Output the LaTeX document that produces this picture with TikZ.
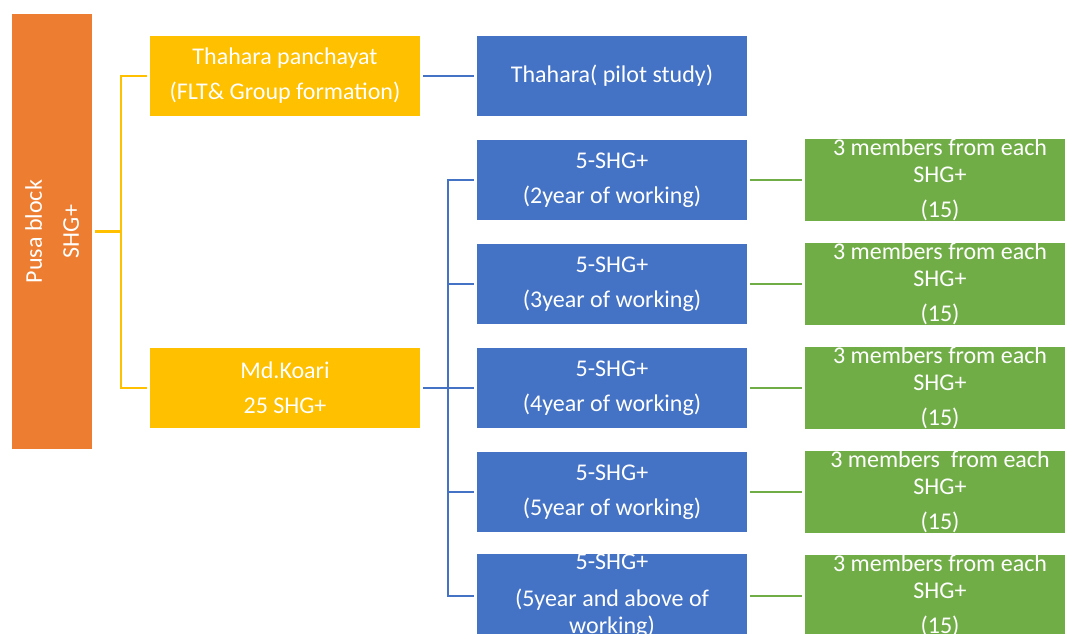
\documentclass[tikz,border=0pt]{standalone}
\usepackage{fontspec}
\setmainfont{Carlito}
\definecolor{pusaorange}{HTML}{ED7D31}
\definecolor{panchyellow}{HTML}{FFC000}
\definecolor{shgblue}{HTML}{4472C4}
\definecolor{membergreen}{HTML}{70AD47}

\begin{document}
\begin{tikzpicture}[x=1pt, y=1pt]
            \tikzset{box/.style={text=white, inner sep=0pt, align=center, font=\fontsize{24}{35}\selectfont}}
            \tikzset{blockbox/.style={box, fill=pusaorange, rotate=90, minimum width=435, minimum height=80, font=\fontsize{24}{37}\selectfont}}
            \tikzset{panchbox/.style={box, fill=panchyellow, minimum width=270, minimum height=80}}
            \tikzset{shgbox/.style={box, fill=shgblue, minimum width=270, minimum height=80}}
            \tikzset{memberbox/.style={box, fill=membergreen, minimum width=270, minimum height=80, font=\fontsize{24}{27}\selectfont}}
            \tikzset{link/.style={line width=2.5pt, shorten <=3pt, shorten >=3pt}}
            \useasboundingbox (0, 0) rectangle (1065, -634);
            \node[blockbox] (pusa) at (52, -231.5) {Pusa block\\SHG+};
            \node[panchbox] (thahara) at (285, -76) {Thahara panchayat\\(FLT\& Group formation)};
            \node[panchbox] (koari) at (285, -388) {Md.Koari\\25 SHG+};
            \node[shgbox] (pilot) at (612, -76) {Thahara( pilot study)};
            \node[shgbox] (shgtwo) at (612, -180) {5-SHG+\\(2year of working)};
            \node[shgbox] (shgthree) at (612, -284) {5-SHG+\\(3year of working)};
            \node[shgbox] (shgfour) at (612, -388) {5-SHG+\\(4year of working)};
            \node[shgbox] (shgfive) at (612, -492) {5-SHG+\\(5year of working)};
            \node[shgbox, font=\fontsize{24}{27}\selectfont] (shgmore) at (612, -596) {5-SHG+\\[10pt](5year and above of\\working)};
            \node[memberbox] (memtwo) at (940, -180) {3 members from each\\SHG+\\[8pt](15)};
            \node[memberbox] (memthree) at (940, -284) {3 members from each\\SHG+\\[8pt](15)};
            \node[memberbox] (memfour) at (940, -388) {3 members from each\\SHG+\\[8pt](15)};
            \node[memberbox] (memfive) at (940, -492) {3 members\ \ from each\\SHG+\\[8pt](15)};
            \node[memberbox] (memmore) at (940, -596) {3 members from each\\SHG+\\[8pt](15)};
            % block to panchayats
            \draw[link, panchyellow] (pusa.south) -- ++(29, 0) |- (thahara.west);
            \draw[link, panchyellow] (pusa.south) -- ++(29, 0) |- (koari.west);
            % panchayats to groups
            \draw[link, shgblue] (thahara) -- (pilot);
            \draw[link, shgblue] (koari.east) -- ++(28, 0) |- (shgtwo.west);
            \draw[link, shgblue] (koari.east) -- ++(28, 0) |- (shgthree.west);
            \draw[link, shgblue] (koari.east) -- ++(28, 0) |- (shgfour.west);
            \draw[link, shgblue] (koari.east) -- ++(28, 0) |- (shgfive.west);
            \draw[link, shgblue] (koari.east) -- ++(28, 0) |- (shgmore.west);
            % groups to members
            \draw[link, membergreen] (shgtwo) -- (memtwo);
            \draw[link, membergreen] (shgthree) -- (memthree);
            \draw[link, membergreen] (shgfour) -- (memfour);
            \draw[link, membergreen] (shgfive) -- (memfive);
            \draw[link, membergreen] (shgmore) -- (memmore);
\end{tikzpicture}
\end{document}
